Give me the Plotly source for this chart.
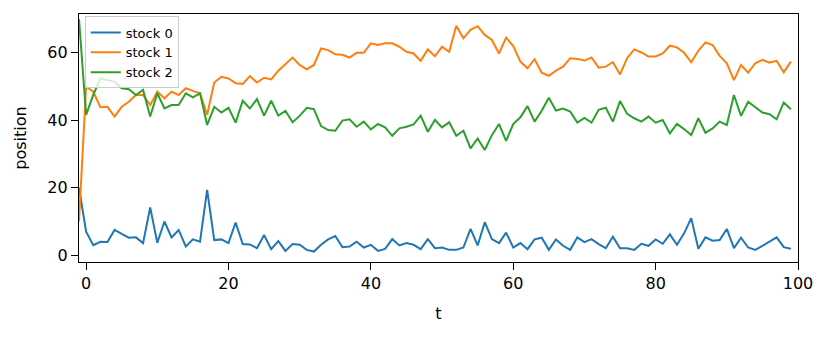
import plotly.graph_objects as go

# time steps (first sample sits on the left spine)
t = list(range(-1, 100))

stock_0 = [20.0,
    7.0, 3.0, 4.0, 3.9, 7.5, 6.3, 5.2, 5.3, 3.6, 14.2,
    3.7, 10.0, 5.3, 7.5, 2.6, 4.7, 4.0, 19.4, 4.5, 4.7,
    3.6, 9.7, 3.3, 3.2, 2.1, 6.0, 1.8, 4.2, 1.3, 3.3,
    3.1, 1.6, 1.1, 3.1, 4.7, 5.7, 2.4, 2.6, 4.0, 2.3,
    3.1, 1.3, 1.9, 4.8, 2.9, 3.6, 3.1, 1.8, 4.8, 2.1,
    2.3, 1.6, 1.6, 2.3, 7.8, 2.9, 9.8, 4.8, 3.6, 6.7,
    2.3, 3.6, 1.8, 4.7, 5.2, 1.6, 4.7, 2.8, 1.6, 5.3,
    3.9, 4.8, 3.3, 2.1, 5.5, 2.1, 2.1, 1.6, 3.4, 2.8,
    4.7, 3.4, 6.2, 3.1, 6.5, 11.0, 1.9, 5.3, 4.3, 4.5,
    7.8, 2.1, 5.2, 2.3, 1.6, 2.8, 4.0, 5.3, 2.4, 1.9]

stock_1 = [10.0,
    50.0, 48.5, 43.9, 44.0, 41.1, 44.0, 45.5, 47.5, 47.5, 44.5,
    48.5, 46.5, 48.5, 47.5, 49.5, 48.7, 48.0, 41.6, 51.2, 52.9,
    52.4, 51.0, 50.8, 53.1, 51.2, 52.6, 52.1, 54.7, 56.6, 58.6,
    56.4, 55.1, 56.4, 61.3, 60.8, 59.6, 59.4, 58.6, 60.0, 60.0,
    62.8, 62.3, 62.8, 62.8, 61.8, 60.3, 59.8, 57.6, 61.0, 59.0,
    61.8, 60.3, 68.0, 64.3, 66.8, 67.9, 65.3, 63.8, 59.8, 64.5,
    62.0, 57.4, 55.4, 58.1, 54.1, 53.2, 54.7, 55.9, 58.4, 58.2,
    57.7, 58.6, 55.6, 55.9, 57.2, 53.6, 58.4, 61.0, 60.1, 58.9,
    58.9, 59.8, 62.1, 61.6, 60.0, 57.2, 60.6, 63.1, 62.3, 59.1,
    56.9, 51.9, 56.4, 54.1, 56.9, 57.9, 57.1, 57.6, 54.2, 57.4]

stock_2 = [70.0,
    41.6, 47.5, 52.4, 51.9, 51.4, 49.5, 49.2, 47.5, 49.0, 41.1,
    48.0, 43.5, 44.5, 44.5, 48.0, 46.8, 48.0, 38.6, 44.0, 42.3,
    43.7, 39.3, 45.8, 43.5, 46.3, 41.4, 45.8, 41.4, 42.8, 39.4,
    41.3, 43.7, 43.3, 38.3, 37.1, 36.9, 39.9, 40.3, 38.1, 39.6,
    37.3, 38.9, 37.9, 35.4, 37.6, 38.1, 38.8, 41.4, 36.6, 40.1,
    37.9, 39.4, 35.4, 36.9, 31.7, 34.6, 31.2, 35.6, 38.9, 33.9,
    38.9, 40.9, 44.2, 39.6, 42.8, 46.7, 42.9, 43.5, 42.6, 39.3,
    40.7, 39.3, 43.1, 43.7, 39.6, 45.7, 41.9, 40.6, 39.6, 41.1,
    39.3, 40.1, 36.1, 38.9, 37.4, 35.6, 40.6, 36.3, 37.6, 39.6,
    38.6, 47.5, 41.3, 45.5, 43.9, 42.3, 41.8, 40.3, 45.3, 43.3]

series = [("stock 0", stock_0, "#1f77b4"),
          ("stock 1", stock_1, "#ff7f0e"),
          ("stock 2", stock_2, "#2ca02c")]

fig = go.Figure()
for name, ys, color in series:
    fig.add_trace(go.Scatter(x=t, y=ys, mode="lines", name=name,
                             line=dict(color=color, width=2)))

axis_style = dict(showline=True, linecolor="black", linewidth=1.2, mirror=True,
                  ticks="outside", ticklen=7, tickwidth=1.2, tickcolor="black",
                  showgrid=False, zeroline=False, automargin=False,
                  tickfont=dict(family="DejaVu Sans", size=16, color="black"))

fig.update_xaxes(range=[-1, 100], tickvals=[0, 20, 40, 60, 80, 100],
                 title=dict(text="t", standoff=15,
                            font=dict(family="DejaVu Sans", size=16, color="black")),
                 **axis_style)
fig.update_yaxes(range=[-2.0, 71.5], tickvals=[0, 20, 40, 60],
                 title=dict(text="position", standoff=16,
                            font=dict(family="DejaVu Sans", size=16, color="black")),
                 **axis_style)

# page body has an 8px margin, so the figure is 8px smaller than the window
fig.update_layout(
    width=823, height=329,
    margin=dict(l=71, r=33, t=6, b=75),
    plot_bgcolor="white", paper_bgcolor="white",
    font=dict(family="DejaVu Sans", color="black"),
    legend=dict(x=0.008, y=0.99, xanchor="left", yanchor="top",
                bgcolor="rgba(255,255,255,0.8)", bordercolor="#cccccc",
                borderwidth=1, font=dict(family="DejaVu Sans", size=13),
                tracegroupgap=0),
)

fig.write_html("out.html")
